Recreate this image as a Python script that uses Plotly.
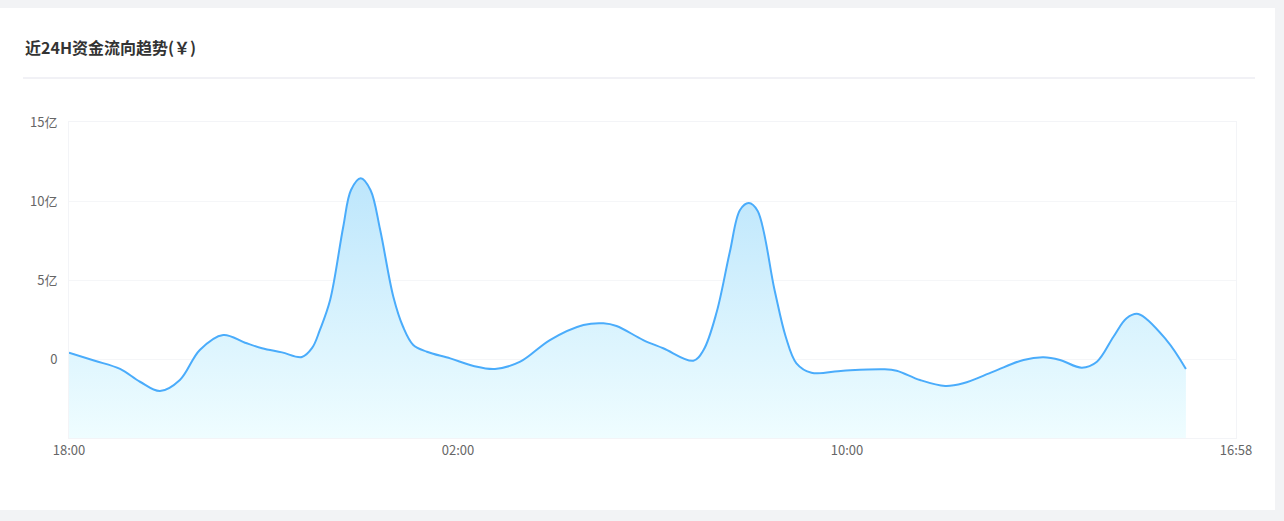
import plotly.graph_objects as go

# hours since 18:00 and net fund flow (亿元)
hours = [0.00, 0.53, 1.05, 1.46, 1.87, 2.28, 2.69, 3.17, 3.62, 3.97, 4.38, 4.79,
         5.00, 5.16, 5.37, 5.64, 5.80, 6.00, 6.20, 6.40, 6.67, 6.87,
         7.08, 7.36, 7.84, 8.32, 8.76, 9.28, 9.89, 10.58, 10.99, 11.26, 11.81,
         12.22, 12.84, 13.05, 13.32, 13.59, 13.80, 13.98, 14.16, 14.51,
         14.74, 14.96, 15.27, 15.92, 16.75, 17.02, 17.50, 18.02, 18.39, 19.01,
         19.63, 20.04, 20.38, 20.83, 21.14, 21.48, 21.75, 21.99, 22.57,
         22.97]
values = [0.40, -0.11, -0.63, -1.44, -2.03, -1.33, 0.57, 1.52, 1.03, 0.68, 0.42, 0.13,
          0.70, 1.84, 3.73, 8.37, 10.70, 11.44, 10.70, 8.16, 3.94, 2.04,
          0.89, 0.46, 0.04, -0.44, -0.63, -0.17, 1.20, 2.15, 2.26, 2.09, 1.20,
          0.68, -0.11, 0.57, 2.97, 6.77, 9.43, 9.87, 9.38, 4.37,
          1.41, -0.27, -0.87, -0.74, -0.65, -0.74, -1.33, -1.71, -1.54, -0.80,
          -0.06, 0.11, -0.06, -0.55, -0.17, 1.41, 2.58, 2.85, 1.20,
          -0.63]

x_tick_vals = [0, 8, 16, 24]
x_tick_text = ["18:00", "02:00", "10:00", "16:58"]
y_tick_vals = [-5, 0, 5, 10, 15]
y_tick_text = ["", "0", "5亿", "10亿", "15亿"]
y_min, y_max = -5, 15
title_text = "近24H资金流向趋势(￥)"

FONT = "Noto Sans CJK SC, Microsoft YaHei, sans-serif"

fig = go.Figure()
fig.add_trace(go.Scatter(
    x=[hours[0], hours[-1]], y=[y_min, y_min], mode="lines",
    line=dict(width=0, color="rgba(0,0,0,0)"), hoverinfo="skip", showlegend=False))
fig.add_trace(go.Scatter(
    x=hours, y=values, mode="lines",
    line=dict(color="#4aacfb", width=2, shape="spline", smoothing=1.0),
    fill="tonexty",
    fillgradient=dict(type="vertical",
                      colorscale=[[0, "#effdff"], [1, "#bde6fc"]]),
    showlegend=False))

W, H = 1284, 521
L, R, T, B = 69, 48, 122, 83
pw, ph = W - L - R, H - T - B

def px(x):
    return (x - L) / pw

def py(y):
    return (H - B - y) / ph

shapes = [
    dict(type="rect", xref="paper", yref="paper", layer="below",
         x0=px(0), x1=px(1275), y0=py(510), y1=py(8),
         fillcolor="white", line=dict(width=0)),
    dict(type="line", xref="paper", yref="paper", layer="below",
         x0=px(23), x1=px(1255), y0=py(78), y1=py(78),
         line=dict(color="#e3e3ec", width=1)),
]

fig.update_layout(
    width=W, height=H,
    margin=dict(l=L, r=R, t=T, b=B),
    paper_bgcolor="#f2f3f5", plot_bgcolor="rgba(0,0,0,0)",
    shapes=shapes,
    annotations=[dict(text="<b>" + title_text + "</b>", xref="paper", yref="paper",
                      x=px(23), y=py(47), xanchor="left", yanchor="middle",
                      showarrow=False, font=dict(family=FONT, size=16, color="#333333"))],
    xaxis=dict(range=[0, 24], tickvals=x_tick_vals, ticktext=x_tick_text,
               showgrid=False, zeroline=False, showline=True, mirror=True,
               linecolor="#f3f4f7", linewidth=1, ticks="",
               tickfont=dict(family=FONT, size=13, color="#666666")),
    yaxis=dict(range=[y_min, y_max], tickvals=y_tick_vals, ticktext=y_tick_text,
               showgrid=True, gridcolor="#f5f6f8", gridwidth=1, zeroline=False,
               showline=True, mirror=True, linecolor="#f3f4f7", ticks="",
               ticklabelstandoff=8,
               tickfont=dict(family=FONT, size=13, color="#666666")),
    font=dict(family=FONT),
)

fig.write_html("out.html", config={"displayModeBar": False},
               post_script="document.body.style.margin='0';document.body.style.background='#f2f3f5';")
